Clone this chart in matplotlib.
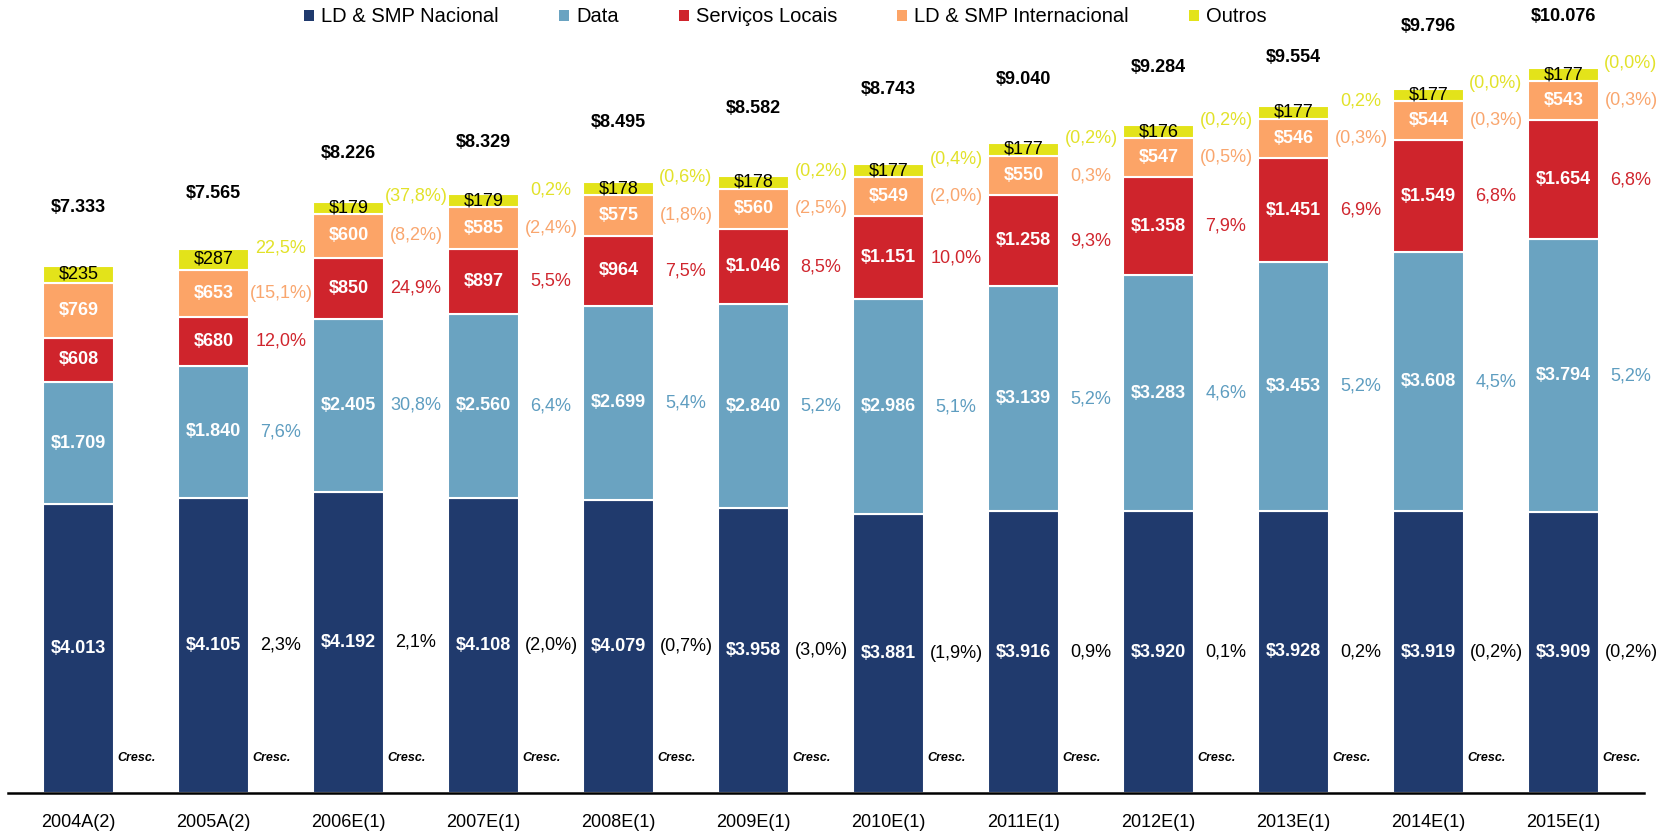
import matplotlib
matplotlib.use("Agg")
import matplotlib.pyplot as plt
from matplotlib.patches import Patch

plt.rcParams['font.family'] = ['Liberation Sans', 'DejaVu Sans']

# ---------------- data ----------------
categories = ["2004A(2)", "2005A(2)", "2006E(1)", "2007E(1)", "2008E(1)", "2009E(1)",
              "2010E(1)", "2011E(1)", "2012E(1)", "2013E(1)", "2014E(1)", "2015E(1)"]
series_names = ["LD & SMP Nacional", "Data", "Serviços Locais", "LD & SMP Internacional", "Outros"]

nacional = [4013, 4105, 4192, 4108, 4079, 3958, 3881, 3916, 3920, 3928, 3919, 3909]
data_svc = [1709, 1840, 2405, 2560, 2699, 2840, 2986, 3139, 3283, 3453, 3608, 3794]
servicos = [608, 680, 850, 897, 964, 1046, 1151, 1258, 1358, 1451, 1549, 1654]
internacional = [769, 653, 600, 585, 575, 560, 549, 550, 547, 546, 544, 543]
outros = [235, 287, 179, 179, 178, 178, 177, 177, 176, 177, 177, 177]
totals = [7333, 7565, 8226, 8329, 8495, 8582, 8743, 9040, 9284, 9554, 9796, 10076]

growth_nacional = ["", "2,3%", "2,1%", "(2,0%)", "(0,7%)", "(3,0%)", "(1,9%)", "0,9%", "0,1%", "0,2%", "(0,2%)", "(0,2%)"]
growth_data = ["", "7,6%", "30,8%", "6,4%", "5,4%", "5,2%", "5,1%", "5,2%", "4,6%", "5,2%", "4,5%", "5,2%"]
growth_servicos = ["", "12,0%", "24,9%", "5,5%", "7,5%", "8,5%", "10,0%", "9,3%", "7,9%", "6,9%", "6,8%", "6,8%"]
growth_internacional = ["", "(15,1%)", "(8,2%)", "(2,4%)", "(1,8%)", "(2,5%)", "(2,0%)", "0,3%", "(0,5%)", "(0,3%)", "(0,3%)", "(0,3%)"]
growth_outros = ["", "22,5%", "(37,8%)", "0,2%", "(0,6%)", "(0,2%)", "(0,4%)", "(0,2%)", "(0,2%)", "0,2%", "(0,0%)", "(0,0%)"]

# ---------------- style / layout ----------------
seg_colors = ["#203A6D", "#6AA3C1", "#CF242C", "#FCA467", "#E3E31A"]
growth_colors = ["#000000", "#5E9DC0", "#D0262E", "#F9A66E", "#E2E22A"]
value_colors = ["white", "white", "white", "white", "black"]
value_weights = ["bold", "bold", "bold", "bold", "normal"]
growth_dy_px = [0, 0, 0, 0, 11]
total_gap_px = [58, 56, 48, 52, 60, 67, 75, 64, 58, 48, 62, 52]

def fmt(v):
    s = f"{v:,}".replace(",", ".")
    return "$" + s

fig = plt.figure(figsize=(16.7, 8.34), dpi=100)
ax = fig.add_axes([0, 41 / 834, 1, 793 / 834])

series = [nacional, data_svc, servicos, internacional, outros]
growths = [growth_nacional, growth_data, growth_servicos, growth_internacional, growth_outros]
x = list(range(len(categories)))
width = 0.53
bottoms = [0] * len(categories)

for k, vals in enumerate(series):
    ax.bar(x, vals, width=width, bottom=bottoms, color=seg_colors[k],
           edgecolor="white", linewidth=1.5, zorder=2, label=series_names[k])
    for i, v in enumerate(vals):
        yc = bottoms[i] + v / 2
        ax.text(i, yc, fmt(v), ha="center", va="center", fontsize=13,
                color=value_colors[k], fontweight=value_weights[k], zorder=4)
        g = growths[k][i]
        if g:
            ax.annotate(g, xy=(i + 0.5, yc), xytext=(0, growth_dy_px[k]),
                        textcoords="offset pixels", ha="center", va="center",
                        fontsize=13, color=growth_colors[k], zorder=4)
    bottoms = [b + v for b, v in zip(bottoms, vals)]

for i, t in enumerate(totals):
    ax.annotate(fmt(t), xy=(i, bottoms[i]), xytext=(0, total_gap_px[i]),
                textcoords="offset pixels", ha="center", va="center",
                fontsize=13, fontweight="bold", color="black")
    ax.annotate("Cresc.", xy=(i + 0.43, 0), xytext=(0, 35),
                textcoords="offset pixels", ha="center", va="center",
                fontsize=9, fontweight="bold", fontstyle="italic", color="black", zorder=5)

ax.set_xlim(-0.5815, 11.789)
ax.set_ylim(0, 11029)
ax.set_xticks(x)
ax.set_xticklabels(categories, fontsize=13)
ax.tick_params(axis="x", length=0, pad=15)
ax.set_yticks([])
for s in ["top", "right", "left"]:
    ax.spines[s].set_visible(False)
ax.spines["bottom"].set_linewidth(1.8)
ax.spines["bottom"].set_bounds(-0.52, 11.6)
ax.spines["bottom"].set_zorder(6)
ax.set_facecolor("none")

handles = [Patch(facecolor=c, edgecolor="none") for c in seg_colors]
fig.legend(handles, series_names, loc="center", ncol=5,
           bbox_to_anchor=(785.5 / 1670, 1 - 17 / 834), frameon=False,
           fontsize=14.5, handlelength=0.5, handleheight=0.5,
           handletextpad=0.35, columnspacing=2.98, borderpad=0, borderaxespad=0)

fig.savefig("out.png", dpi=100)
